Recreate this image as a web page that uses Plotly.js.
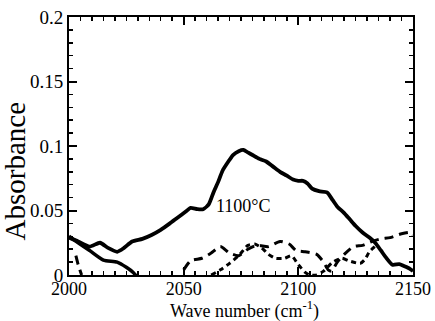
<!DOCTYPE html>
<html>
<head>
<meta charset="utf-8">
<script src="https://cdn.plot.ly/plotly-3.0.1.min.js"></script>
<style>
html,body{margin:0;padding:0;background:#fff;}
#chart{width:435px;height:321px;}
</style>
</head>
<body>
<div id="chart"></div>
<script>
// Solid curve, 1100°C
const xMain = [2000, 2004, 2009, 2013.5, 2017, 2021, 2024, 2027.5, 2032, 2036, 2040, 2044, 2047, 2051.5, 2053, 2056, 2058.5, 2061, 2063, 2065, 2067, 2069.5, 2071.5, 2074, 2076, 2078, 2080, 2083, 2086, 2089, 2092, 2095, 2097.7, 2100, 2102, 2104, 2106, 2109, 2112.5, 2115, 2117, 2120, 2122.5, 2125, 2128, 2131, 2133.5, 2136, 2138, 2141, 2144, 2146, 2148.5, 2150];
const yMain = [0.029, 0.026, 0.022, 0.025, 0.021, 0.018, 0.021, 0.026, 0.028, 0.031, 0.035, 0.040, 0.044, 0.050, 0.052, 0.051, 0.051, 0.055, 0.064, 0.072, 0.081, 0.088, 0.093, 0.096, 0.097, 0.095, 0.093, 0.090, 0.088, 0.084, 0.080, 0.077, 0.074, 0.073, 0.073, 0.071, 0.067, 0.065, 0.064, 0.058, 0.053, 0.048, 0.043, 0.038, 0.033, 0.029, 0.025, 0.019, 0.014, 0.008, 0.0085, 0.007, 0.005, 0.003];
// Second solid curve (falls to zero)
const xLow = [2000, 2004, 2009, 2015, 2021, 2025, 2028, 2030];
const yLow = [0.030, 0.025, 0.019, 0.0116, 0.010, 0.006, 0.002, -0.002];
// Long-dash curve
const xDashA = [2003, 2004, 2005.5, null, 2050, 2053, 2058, 2062, 2066, 2070, 2074, 2078, 2082, 2087, 2092, 2096, 2099, 2103, 2108, 2111, 2113, 2114.5, 2117, 2120, 2124, 2128, 2132, 2136, 2140, 2145, 2149, 2150];
const yDashA = [0.015, 0.008, 0.0, null, 0.004, 0.011, 0.013, 0.017, 0.022, 0.017, 0.015, 0.020, 0.023, 0.022, 0.026, 0.024, 0.019, 0.018, 0.016, 0.010, 0.004, 0.003, 0.010, 0.016, 0.022, 0.023, 0.026, 0.028, 0.029, 0.032, 0.033, 0.031];
// Short-dash curve
const xDashB = [2062, 2066, 2070, 2074, 2078, 2081, 2084, 2087, 2090, 2094, 2097, 2100, 2103, 2105, 2108, 2111, 2115, 2119, 2122, 2127, 2129, 2131, 2134];
const yDashB = [0.0, 0.004, 0.009, 0.015, 0.023, 0.024, 0.021, 0.016, 0.013, 0.013, 0.015, 0.008, 0.002, 0.0, 0.0, 0.003, 0.010, 0.013, 0.011, 0.009, 0.012, 0.018, 0.023];

const xTicks = [2000, 2050, 2100, 2150];
const xTickText = ['2000', '2050', '2100', '2150'];
const yTicks = [0, 0.05, 0.1, 0.15, 0.2];
const yTickText = ['0', '0.05', '0.1', '0.15', '0.2'];
const label = '1100°C';
const yTitle = 'Absorbance';
const xTitle = 'Wave number (cm<sup>-1</sup>)';

const font = '"Liberation Serif", "DejaVu Serif", serif';

const traces = [
  {x: xMain, y: yMain, mode: 'lines', line: {color: '#000', width: 3.8, shape: 'spline', smoothing: 0.6}, hoverinfo: 'skip'},
  {x: xLow, y: yLow, mode: 'lines', line: {color: '#000', width: 3.5, shape: 'spline', smoothing: 0.6}, hoverinfo: 'skip'},
  {x: xDashA, y: yDashA, mode: 'lines', connectgaps: false, line: {color: '#000', width: 3, dash: '9px,6px', shape: 'spline', smoothing: 0.6}, hoverinfo: 'skip'},
  {x: xDashB, y: yDashB, mode: 'lines', line: {color: '#000', width: 3, dash: '5px,4px', shape: 'spline', smoothing: 0.6}, hoverinfo: 'skip'}
];

const layout = {
  width: 435, height: 321,
  margin: {l: 69, r: 22, t: 17, b: 46},
  paper_bgcolor: '#fff', plot_bgcolor: '#fff',
  showlegend: false,
  font: {family: font, color: '#000', size: 18},
  xaxis: {
    range: [2000, 2150], tickvals: xTicks, ticktext: xTickText,
    ticks: 'inside', ticklen: 8, tickwidth: 2, tickcolor: '#000',
    minor: {dtick: 5, tick0: 2000, ticks: 'inside', ticklen: 4, tickwidth: 1.5, tickcolor: '#000'},
    showline: true, linecolor: '#000', linewidth: 2, mirror: 'ticks',
    showgrid: false, zeroline: false,
    ticklabelstandoff: -4,
    tickfont: {family: font, size: 18, color: '#000'}
  },
  yaxis: {
    range: [0, 0.2], tickvals: yTicks, ticktext: yTickText,
    ticks: 'inside', ticklen: 8, tickwidth: 2, tickcolor: '#000',
    minor: {dtick: 0.01, tick0: 0, ticks: 'inside', ticklen: 4, tickwidth: 1.5, tickcolor: '#000'},
    showline: true, linecolor: '#000', linewidth: 2, mirror: 'ticks',
    showgrid: false, zeroline: false,
    tickfont: {family: font, size: 19, color: '#000'}
  },
  annotations: [
    {x: 2076, y: 0.0535, xref: 'x', yref: 'y', text: label, showarrow: false,
     font: {family: font, size: 18, color: '#000'}},
    {x: -0.157, y: 0.405, xref: 'paper', yref: 'paper', text: yTitle, textangle: -90, showarrow: false,
     xanchor: 'center', yanchor: 'middle', font: {family: font, size: 29, color: '#000'}},
    {x: 0.51, y: -0.135, xref: 'paper', yref: 'paper', text: xTitle, showarrow: false,
     xanchor: 'center', yanchor: 'middle', font: {family: font, size: 18, color: '#000'}}
  ]
};

Plotly.newPlot('chart', traces, layout, {staticPlot: true, displayModeBar: false});
</script>
</body>
</html>
